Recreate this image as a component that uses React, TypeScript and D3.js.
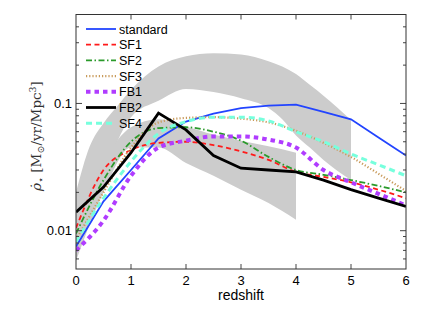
import * as d3 from "d3";

// redshift grid shared by the model curves
const zs = [0, 0.5, 1, 1.5, 2, 2.5, 3, 3.5, 4, 4.5, 5, 5.5, 6];

const standard = [0.0075, 0.017, 0.03, 0.053, 0.072, 0.083, 0.092, 0.096, 0.098, 0.086, 0.075, 0.054, 0.039];
const sf1 = [0.0105, 0.03, 0.043, 0.049, 0.05, 0.047, 0.042, 0.036, 0.029, 0.0265, 0.024, 0.021, 0.018];
const sf2 = [0.0095, 0.025, 0.05, 0.064, 0.065, 0.06, 0.051, 0.038, 0.03, 0.0275, 0.025, 0.0225, 0.02];
const sf3 = [0.0085, 0.02, 0.045, 0.071, 0.077, 0.078, 0.076, 0.071, 0.061, 0.049, 0.038, 0.028, 0.0205];
const fb1 = [0.007, 0.012, 0.027, 0.045, 0.051, 0.055, 0.055, 0.052, 0.045, 0.03, 0.024, 0.0195, 0.0158];
const fb2 = [0.014, 0.022, 0.041, 0.084, 0.062, 0.039, 0.031, 0.03, 0.029, 0.025, 0.021, 0.018, 0.0155];
const sf4 = [0.0082, 0.018, 0.035, 0.058, 0.072, 0.078, 0.078, 0.073, 0.06, 0.05, 0.04, 0.033, 0.027];

// observational envelopes (grey)
const bandAz = [0, 0.25, 0.5, 0.75, 1, 1.5, 2, 2.5, 3, 3.5, 3.75, 4, 4.25, 4.5, 5];
const bandAlo = [0.0062, 0.012, 0.025, 0.05, 0.078, 0.105, 0.13, 0.123, 0.11, 0.092, 0.075, 0.056, 0.045, 0.036, 0.025];
const bandAhi = [0.02, 0.046, 0.07, 0.095, 0.128, 0.195, 0.235, 0.248, 0.243, 0.215, 0.195, 0.17, 0.14, 0.115, 0.074];
const bandBz = [0, 0.5, 1, 1.5, 2, 2.5, 3, 3.5, 4];
const bandBlo = [0.0058, 0.02, 0.045, 0.045, 0.034, 0.027, 0.021, 0.0165, 0.0122];
const bandBhi = [0.012, 0.035, 0.065, 0.075, 0.066, 0.057, 0.051, 0.046, 0.041];

const xTicks = [0, 1, 2, 3, 4, 5, 6];
const yMajor = [0.01, 0.1];
const yMinor = [0.006, 0.007, 0.008, 0.009, 0.02, 0.03, 0.04, 0.05, 0.06, 0.07, 0.08, 0.09, 0.2, 0.3, 0.4];
const yLabels = ["0.01", "0.1"];

const series = [
  { name: "standard", data: standard, color: "#2244ff", width: 1.8, dash: "" },
  { name: "SF1", data: sf1, color: "#ff1a1a", width: 1.8, dash: "5,3.5" },
  { name: "SF2", data: sf2, color: "#2a9a2a", width: 1.8, dash: "6,2.5,1.5,2.5" },
  { name: "SF3", data: sf3, color: "#c89a5a", width: 2.2, dash: "1.2,2" },
  { name: "FB1", data: fb1, color: "#b03cff", width: 4, dash: "4.5,4" },
  { name: "FB2", data: fb2, color: "#000000", width: 2.8, dash: "" },
  { name: "SF4", data: sf4, color: "#77ffdd", width: 3, dash: "6,4" },
];

export default function App() {
  const W = 421;
  const H = 317;
  const x = d3.scaleLinear().domain([0, 6]).range([76, 406]);
  const y = d3.scaleLog().domain([0.005, 0.5]).range([269, 14.5]);
  const [x0, x1] = x.range();
  const [y0, y1] = y.range();

  const area = (zz: number[], lo: number[], hi: number[]) =>
    d3
      .area<number>()
      .x((_, i) => x(zz[i]))
      .y0((_, i) => y(lo[i]))
      .y1((_, i) => y(hi[i]))
      .curve(d3.curveMonotoneX)(zz) as string;

  const line = (data: number[], smooth: boolean) =>
    d3
      .line<number>()
      .x((_, i) => x(zs[i]))
      .y((d) => y(d))
      .curve(smooth ? d3.curveMonotoneX : d3.curveLinear)(data) as string;

  const tickColor = "#444";

  return (
    <svg
      width={W}
      height={H}
      style={{ position: "absolute", left: 0, top: 0, background: "#fff" }}
      fontFamily="Liberation Sans, Arial, sans-serif"
    >
      <defs>
        <clipPath id="plot">
          <rect x={x0} y={y1} width={x1 - x0} height={y0 - y1} />
        </clipPath>
      </defs>

      <g clipPath="url(#plot)">
        <path d={area(bandAz, bandAlo, bandAhi)} fill="#cccccc" />
        <path d={area(bandBz, bandBlo, bandBhi)} fill="#cccccc" />
        {series.map((s) => (
          <path
            key={s.name}
            d={line(s.data, s.name !== "FB2" && s.name !== "standard")}
            fill="none"
            stroke={s.color}
            strokeWidth={s.width}
            strokeDasharray={s.dash}
          />
        ))}
      </g>

      {/* legend */}
      {series.map((s, i) => {
        const ly = 29 + i * 15.7;
        return (
          <g key={s.name}>
            <line x1={86} x2={116} y1={ly} y2={ly} stroke={s.color} strokeWidth={s.width} strokeDasharray={s.dash} />
            <text x={119} y={ly + 4.5} fontSize={12.5} fill="#000">
              {s.name}
            </text>
          </g>
        );
      })}

      {/* ticks */}
      {xTicks.slice(1, -1).map((t) => (
        <g key={t} stroke={tickColor} strokeWidth={1}>
          <line x1={x(t)} x2={x(t)} y1={y0} y2={y0 - 5} />
          <line x1={x(t)} x2={x(t)} y1={y1} y2={y1 + 5} />
        </g>
      ))}
      {yMajor.map((t) => (
        <g key={t} stroke={tickColor} strokeWidth={1}>
          <line x1={x0} x2={x0 + 6} y1={y(t)} y2={y(t)} />
          <line x1={x1} x2={x1 - 6} y1={y(t)} y2={y(t)} />
        </g>
      ))}
      {yMinor.map((t) => (
        <g key={t} stroke={tickColor} strokeWidth={1}>
          <line x1={x0} x2={x0 + 3} y1={y(t)} y2={y(t)} />
          <line x1={x1} x2={x1 - 3} y1={y(t)} y2={y(t)} />
        </g>
      ))}

      <rect x={x0} y={y1} width={x1 - x0} height={y0 - y1} fill="none" stroke="#333" strokeWidth={1} />

      {/* tick labels */}
      {xTicks.map((t) => (
        <text key={t} x={x(t)} y={285} fontSize={13} textAnchor="middle" fill="#000">
          {t}
        </text>
      ))}
      {yMajor.map((t, i) => (
        <text key={t} x={72} y={y(t) + 4.5} fontSize={13} textAnchor="end" fill="#000">
          {yLabels[i]}
        </text>
      ))}

      <text x={(x0 + x1) / 2} y={300} fontSize={14} textAnchor="middle" fill="#000">
        redshift
      </text>

      <text
        transform="translate(41,136) rotate(-90)"
        textAnchor="middle"
        fontFamily="DejaVu Serif, serif"
        fontSize={13.5}
        fill="#333"
      >
        <tspan fontStyle="italic">ρ̇</tspan>
        <tspan fontSize={9.5} dy={3}>⋆</tspan>
        <tspan dy={-3}> [M</tspan>
        <tspan fontSize={9.5} dy={3}>⊙</tspan>
        <tspan dy={-3}>/yr/Mpc</tspan>
        <tspan fontSize={9.5} dy={-5}>3</tspan>
        <tspan dy={5}>]</tspan>
      </text>
    </svg>
  );
}
